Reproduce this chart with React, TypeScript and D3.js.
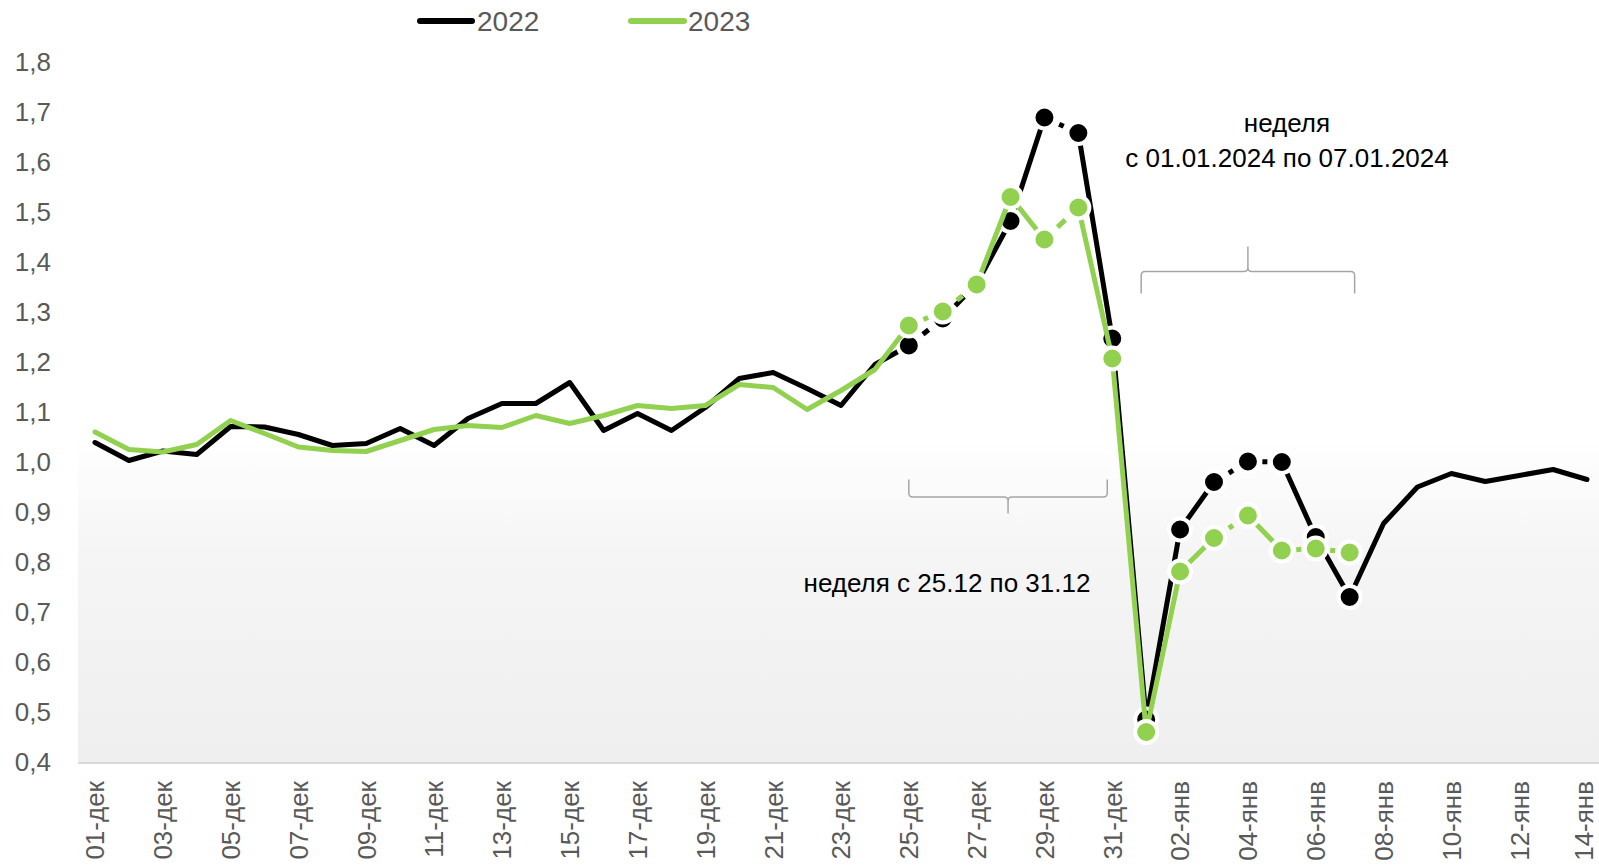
import { useEffect } from 'react';
import * as d3 from 'd3';

// categories (days)
const days = [
  '01-дек', '02-дек', '03-дек', '04-дек', '05-дек', '06-дек', '07-дек', '08-дек', '09-дек', '10-дек',
  '11-дек', '12-дек', '13-дек', '14-дек', '15-дек', '16-дек', '17-дек', '18-дек', '19-дек', '20-дек',
  '21-дек', '22-дек', '23-дек', '24-дек', '25-дек', '26-дек', '27-дек', '28-дек', '29-дек', '30-дек',
  '31-дек', '01-янв', '02-янв', '03-янв', '04-янв', '05-янв', '06-янв', '07-янв', '08-янв', '09-янв',
  '10-янв', '11-янв', '12-янв', '13-янв', '14-янв',
];

const values2022 = [
  1.039, 1.003, 1.022, 1.015, 1.071, 1.07, 1.055, 1.033, 1.037, 1.067,
  1.033, 1.087, 1.117, 1.117, 1.159, 1.063, 1.097, 1.063, 1.109, 1.167,
  1.179, 1.147, 1.113, 1.195, 1.233, 1.287, 1.356, 1.482, 1.689, 1.658,
  1.247, 0.485, 0.865, 0.96, 1.001, 1.0, 0.85, 0.73, 0.877, 0.95,
  0.977, 0.961, 0.973, 0.985, 0.965,
];

const values2023 = [
  1.06, 1.025, 1.02, 1.035, 1.083, 1.057, 1.03, 1.023, 1.021, 1.043,
  1.065, 1.073, 1.069, 1.093, 1.077, 1.093, 1.113, 1.107, 1.113, 1.155,
  1.149, 1.105, 1.143, 1.185, 1.273, 1.301, 1.355, 1.53, 1.445, 1.509,
  1.207, 0.46, 0.781, 0.848, 0.893, 0.823, 0.827, 0.819,
];

const yTicks = [0.4, 0.5, 0.6, 0.7, 0.8, 0.9, 1.0, 1.1, 1.2, 1.3, 1.4, 1.5, 1.6, 1.7, 1.8];

// holiday window with markers; dashed segments are given by the day they start from
const markerFrom = '25-дек';
const markerTo = '07-янв';
const dashed2022 = ['25-дек', '26-дек', '29-дек', '03-янв', '04-янв'];
const dashed2023 = ['25-дек', '26-дек', '29-дек', '03-янв', '05-янв', '06-янв'];

const W = 1599;
const H = 866;
const GREEN = '#92d050';
const FONT = '"Liberation Sans", Arial, sans-serif';

interface SeriesProps {
  values: number[];
  color: string;
  dashed: string[];
  x: d3.ScalePoint<string>;
  y: d3.ScaleLinear<number, number>;
}

function Series({ values, color, dashed, x, y }: SeriesProps) {
  const pts = values.map((v, i) => [x(days[i]) as number, y(v)] as [number, number]);
  const line = d3.line();
  const i0 = days.indexOf(markerFrom);
  const i1 = days.indexOf(markerTo);

  // split into solid runs and single dashed segments
  const runs: [number, number][][] = [];
  let cur: [number, number][] = [pts[0]];
  const dashSegs: [[number, number], [number, number]][] = [];
  for (let i = 0; i < pts.length - 1; i++) {
    if (dashed.includes(days[i])) {
      if (cur.length > 1) runs.push(cur);
      cur = [pts[i + 1]];
      dashSegs.push([pts[i], pts[i + 1]]);
    } else {
      cur.push(pts[i + 1]);
    }
  }
  if (cur.length > 1) runs.push(cur);

  return (
    <g>
      {runs.map((r, k) => (
        <path key={k} d={line(r) ?? ''} fill="none" stroke={color} strokeWidth={5}
          strokeLinejoin="round" strokeLinecap="round" />
      ))}
      {dashSegs.map(([a, b], k) => {
        const L = Math.hypot(b[0] - a[0], b[1] - a[1]);
        const d = Math.max(5, L - 26 - 10);
        return (
          <path key={'d' + k} d={line([a, b]) ?? ''} fill="none" stroke={color} strokeWidth={5}
            strokeDasharray={`0 ${(L - d) / 2} ${d} ${L}`} />
        );
      })}
      {pts.map((p, i) => (i >= i0 && i <= i1 ? (
        <circle key={'m' + i} cx={p[0]} cy={p[1]} r={11} fill={color} stroke="#fff" strokeWidth={4} />
      ) : null))}
    </g>
  );
}

function Brace({ x0, x1, yEnd, yLine, yTip }: { x0: number; x1: number; yEnd: number; yLine: number; yTip: number }) {
  const xt = (x0 + x1) / 2;
  const s = Math.sign(yTip - yLine);
  const r = 4;
  const side = (xe: number) => {
    const dir = Math.sign(xt - xe);
    return `M${xe},${yEnd} L${xe},${yLine - s * r} Q${xe},${yLine} ${xe + dir * r},${yLine} ` +
      `L${xt - dir * r},${yLine} Q${xt},${yLine} ${xt},${yLine + s * r} L${xt},${yTip}`;
  };
  return <path d={side(x0) + ' ' + side(x1)} fill="none" stroke="#a6a6a6" strokeWidth={1.5} />;
}

export default function App() {
  useEffect(() => {
    document.body.style.margin = '0';
  }, []);

  const x = d3.scalePoint<string>().domain(days).range([95, 1587]);
  const y = d3.scaleLinear().domain([0.4, 1.8]).range([762, 62]);
  const fmt = (v: number) => v.toFixed(1).replace('.', ',');

  return (
    <svg width={W} height={H} style={{ display: 'block', background: '#fff' }} fontFamily={FONT}>
      <defs>
        <linearGradient id="plotBg" x1="0" y1="0" x2="0" y2="1">
          <stop offset="0%" stopColor="#ffffff" />
          <stop offset="35%" stopColor="#f5f5f5" />
          <stop offset="100%" stopColor="#efefef" />
        </linearGradient>
      </defs>

      <rect x={78} y={y(1.047)} width={W - 78} height={y(0.4) - y(1.047)} fill="url(#plotBg)" />
      <line x1={78} x2={W} y1={y(0.4) + 1} y2={y(0.4) + 1} stroke="#d9d9d9" strokeWidth={2} />

      {yTicks.map(t => (
        <text key={t} x={51} y={y(t)} dy="0.35em" textAnchor="end" fontSize={26} fill="#595959">{fmt(t)}</text>
      ))}

      {days.map((d, i) => (i % 2 === 0 ? (
        <text key={d} transform={`translate(${Math.min(x(d)!, 1584)},${781}) rotate(-90)`} dy="0.36em"
          textAnchor="end" fontSize={26} fill="#595959">{d}</text>
      ) : null))}

      <Brace x0={x('25-дек')!} x1={x('31-дек')! - 5} yEnd={y(0.965)} yLine={y(0.93)} yTip={y(0.897)} />
      <Brace x0={x('01-янв')! - 5} x1={x('07-янв')! + 5} yEnd={y(1.337)} yLine={y(1.381)} yTip={y(1.431)} />

      <text x={1287} y={132} textAnchor="middle" fontSize={26} fill="#000">неделя</text>
      <text x={1287} y={167} textAnchor="middle" fontSize={26} fill="#000">с 01.01.2024 по 07.01.2024</text>
      <text x={947} y={592} textAnchor="middle" fontSize={26} fill="#000">неделя с 25.12 по 31.12</text>

      <Series values={values2022} color="#000" dashed={dashed2022} x={x} y={y} />
      <Series values={values2023} color={GREEN} dashed={dashed2023} x={x} y={y} />

      <line x1={420} x2={472} y1={21} y2={21} stroke="#000" strokeWidth={6} strokeLinecap="round" />
      <text x={477} y={21} dy="0.36em" fontSize={28} fill="#595959">2022</text>
      <line x1={631} x2={684} y1={21} y2={21} stroke={GREEN} strokeWidth={6} strokeLinecap="round" />
      <text x={688} y={21} dy="0.36em" fontSize={28} fill="#595959">2023</text>
    </svg>
  );
}
